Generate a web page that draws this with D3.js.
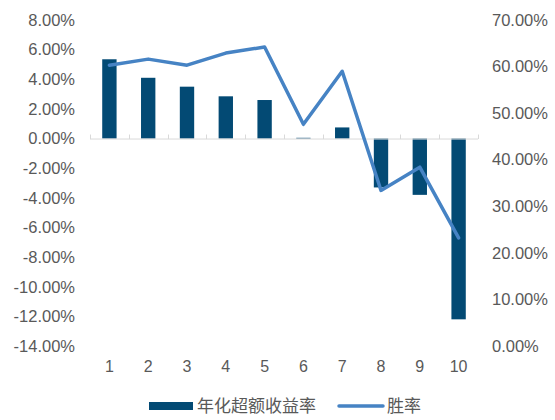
<!DOCTYPE html>
<html><head><meta charset="utf-8">
<script src="https://cdn.jsdelivr.net/npm/d3@7/dist/d3.min.js"></script>
<style>body{margin:0;background:#fff}svg{display:block}</style>
</head><body><svg id="c" width="555" height="420"></svg>
<script>
const categories = ["1","2","3","4","5","6","7","8","9","10"];
const excessReturn = [5.35, 4.1, 3.5, 2.85, 2.6, 0.05, 0.75, -3.3, -3.8, -12.2];
const winRate = [60.3, 61.6, 60.3, 62.9, 64.2, 47.6, 59.0, 33.4, 38.4, 23.2];
const leftTicks = [8,6,4,2,0,-2,-4,-6,-8,-10,-12,-14];
const rightTicks = [70,60,50,40,30,20,10,0];
const seriesNames = ["年化超额收益率","胜率"];

const svg = d3.select("#c");
const font = "'Liberation Sans', Arial, 'Noto Sans CJK SC', sans-serif";
const textColor = "#595959";
const barColor = "#034a74";
const lineColor = "#4683c4";

const x = d3.scaleBand().domain(categories).range([90, 478]).paddingInner(0.63).paddingOuter(0.315);
const yL = d3.scaleLinear().domain([-14, 8]).range([346, 20]);
const yR = d3.scaleLinear().domain([0, 70]).range([346, 20]);

// left axis labels
svg.append("g").selectAll("text").data(leftTicks).join("text")
  .attr("x", 75).attr("y", d => yL(d)).attr("dy", "0.35em")
  .attr("text-anchor", "end").attr("font-family", font).attr("font-size", 16.5)
  .attr("fill", textColor).text(d => d.toFixed(2) + "%");

// right axis labels
svg.append("g").selectAll("text").data(rightTicks).join("text")
  .attr("x", 492).attr("y", d => yR(d)).attr("dy", "0.35em")
  .attr("text-anchor", "start").attr("font-family", font).attr("font-size", 16.5)
  .attr("fill", textColor).text(d => d.toFixed(2) + "%");

// bars
svg.append("g").selectAll("rect").data(categories).join("rect")
  .attr("x", d => x(d))
  .attr("width", x.bandwidth())
  .attr("y", (d, i) => Math.min(yL(excessReturn[i]), yL(0)))
  .attr("height", (d, i) => Math.abs(yL(excessReturn[i]) - yL(0)))
  .attr("fill", barColor);

// zero axis line with upward ticks
const step = x.step();
const ax = svg.append("g").attr("stroke", "#d9d9d9").attr("stroke-width", 1);
ax.append("line").attr("x1", 90).attr("x2", 478).attr("y1", yL(0) + 0.5).attr("y2", yL(0) + 0.5);
const tickXs = d3.range(categories.length + 1).map(i => 90 + i * step);
ax.selectAll("line.t").data(tickXs).join("line").attr("class", "t")
  .attr("x1", d => Math.round(d) + 0.5).attr("x2", d => Math.round(d) + 0.5)
  .attr("y1", yL(0) + 0.5).attr("y2", yL(0) - 4);

// line
const line = d3.line().x((d, i) => x(categories[i]) + x.bandwidth() / 2).y(d => yR(d));
svg.append("path").datum(winRate).attr("d", line)
  .attr("fill", "none").attr("stroke", lineColor).attr("stroke-width", 3.5)
  .attr("stroke-linejoin", "round").attr("stroke-linecap", "round");

// x labels
svg.append("g").selectAll("text").data(categories).join("text")
  .attr("x", d => x(d) + x.bandwidth() / 2).attr("y", 366).attr("dy", "0.35em")
  .attr("text-anchor", "middle").attr("font-family", font).attr("font-size", 16)
  .attr("fill", textColor).text(d => d);

// legend
const lg = svg.append("g");
lg.append("rect").attr("x", 149).attr("y", 402).attr("width", 44).attr("height", 8).attr("fill", barColor);
lg.append("text").attr("x", 197).attr("y", 406).attr("dy", "0.35em").attr("font-family", font)
  .attr("font-size", 17).attr("fill", textColor).text(seriesNames[0]);
lg.append("line").attr("x1", 339).attr("x2", 383).attr("y1", 406).attr("y2", 406)
  .attr("stroke", lineColor).attr("stroke-width", 3.5).attr("stroke-linecap", "round");
lg.append("text").attr("x", 387).attr("y", 406).attr("dy", "0.35em").attr("font-family", font)
  .attr("font-size", 17).attr("fill", textColor).text(seriesNames[1]);
</script></body></html>
